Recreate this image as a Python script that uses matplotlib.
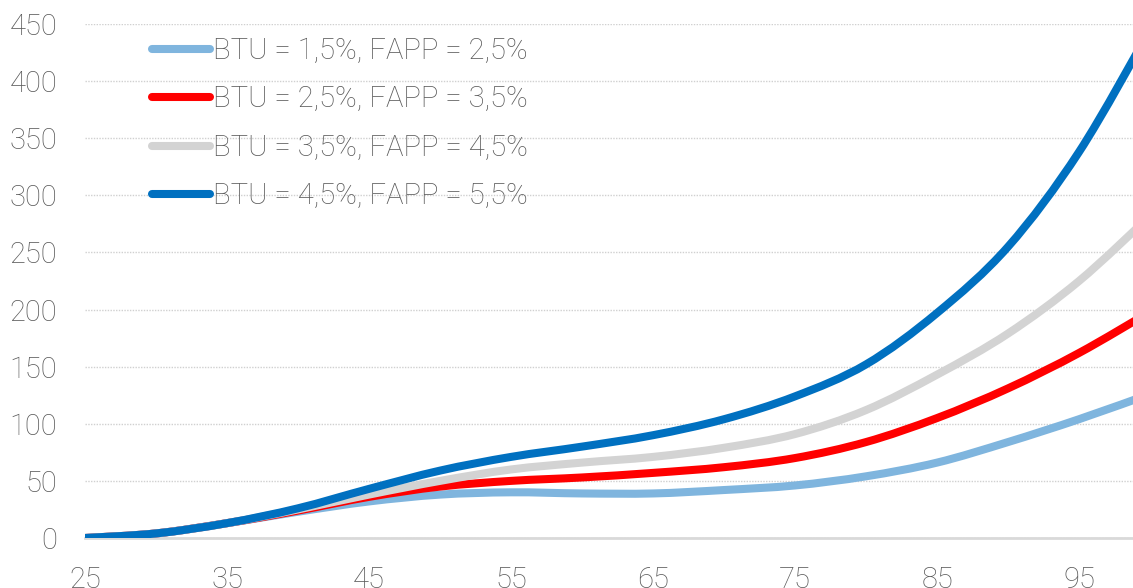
import matplotlib
matplotlib.use("Agg")
import matplotlib.pyplot as plt
from matplotlib.path import Path
from matplotlib.patches import PathPatch
from matplotlib.lines import Line2D

ages = [25, 30, 35, 40, 45, 50, 55, 60, 65, 70, 75, 80, 85, 90, 95, 100]

s1 = [0, 4, 13, 23, 32, 38, 40, 39, 39, 42, 46, 54, 66, 84, 104, 126]
s2 = [0, 4, 13, 24, 36, 45, 50, 53, 57, 62, 70, 84, 105, 131, 162, 198]
s3 = [0, 4, 13, 25, 38, 50, 60, 66, 71, 79, 91, 112, 143, 179, 225, 282]
s4 = [0, 4, 13, 26, 43, 59, 71, 80, 90, 104, 124, 152, 197, 255, 338, 445]

labels = ["BTU = 1,5%, FAPP = 2,5%", "BTU = 2,5%, FAPP = 3,5%",
          "BTU = 3,5%, FAPP = 4,5%", "BTU = 4,5%, FAPP = 5,5%"]
colors = ["#7FB5DE", "#FF0000", "#D3D3D3", "#0070C0"]

xticks = [25, 35, 45, 55, 65, 75, 85, 95]
yticks = [0, 50, 100, 150, 200, 250, 300, 350, 400, 450]

plt.rcParams['font.family'] = ['Roboto', 'DejaVu Sans']
plt.rcParams['font.weight'] = 'light'
txt = "#595959"


def smooth_path(xs, ys):
    """Excel-style smoothed line: cubic Bezier segments through the points."""
    pts = list(zip(xs, ys))
    n = len(pts)
    verts = [pts[0]]
    codes = [Path.MOVETO]
    for i in range(n - 1):
        p0 = pts[i - 1] if i > 0 else pts[i]
        p1 = pts[i]
        p2 = pts[i + 1]
        p3 = pts[i + 2] if i + 2 < n else pts[i + 1]
        c1 = (p1[0] + (p2[0] - p0[0]) / 6, p1[1] + (p2[1] - p0[1]) / 6)
        c2 = (p2[0] - (p3[0] - p1[0]) / 6, p2[1] - (p3[1] - p1[1]) / 6)
        verts += [c1, c2, p2]
        codes += [Path.CURVE4] * 3
    return Path(verts, codes)


fig = plt.figure(figsize=(11.33, 5.88), dpi=100)
ax = fig.add_axes([85/1133, 1-538/588, 1-85/1133, (538-24)/588])

handles = []
for k, (ys, c, lab) in enumerate(zip([s1, s2, s3, s4], colors, labels)):
    patch = PathPatch(smooth_path(ages, ys), facecolor='none', edgecolor=c,
                      lw=5.8, capstyle='round', joinstyle='round', zorder=2 + k)
    ax.add_patch(patch)
    handles.append(Line2D([], [], color=c, lw=5.8, solid_capstyle='round', label=lab))

ax.set_xlim(25, 98.8)
ax.set_ylim(0, 450)
ax.set_xticks(xticks)
ax.set_yticks(yticks)
ax.yaxis.grid(True, linestyle=(0, (1, 1)), color="#D0D0D0", lw=1)
ax.set_axisbelow(True)
for sp in ['top', 'right', 'left']:
    ax.spines[sp].set_visible(False)
ax.spines['bottom'].set_color("#D9D9D9")
ax.spines['bottom'].set_linewidth(2)
ax.spines['bottom'].set_zorder(1)
ax.tick_params(axis='both', length=0, labelsize=21, labelcolor=txt)
ax.tick_params(axis='y', pad=20)
ax.tick_params(axis='x', pad=20)
for t in ax.get_xticklabels() + ax.get_yticklabels():
    t.set_fontweight('light')

leg = ax.legend(handles=handles, loc='upper left',
                bbox_to_anchor=(152/1133, 1-37/588),
                bbox_transform=fig.transFigure, frameon=False,
                prop={'size': 21, 'weight': 'light'}, handlelength=2.0,
                handletextpad=0.1, labelspacing=0.70, borderpad=0, borderaxespad=0)
for t in leg.get_texts():
    t.set_color(txt)

fig.savefig("out.png", dpi=100)
